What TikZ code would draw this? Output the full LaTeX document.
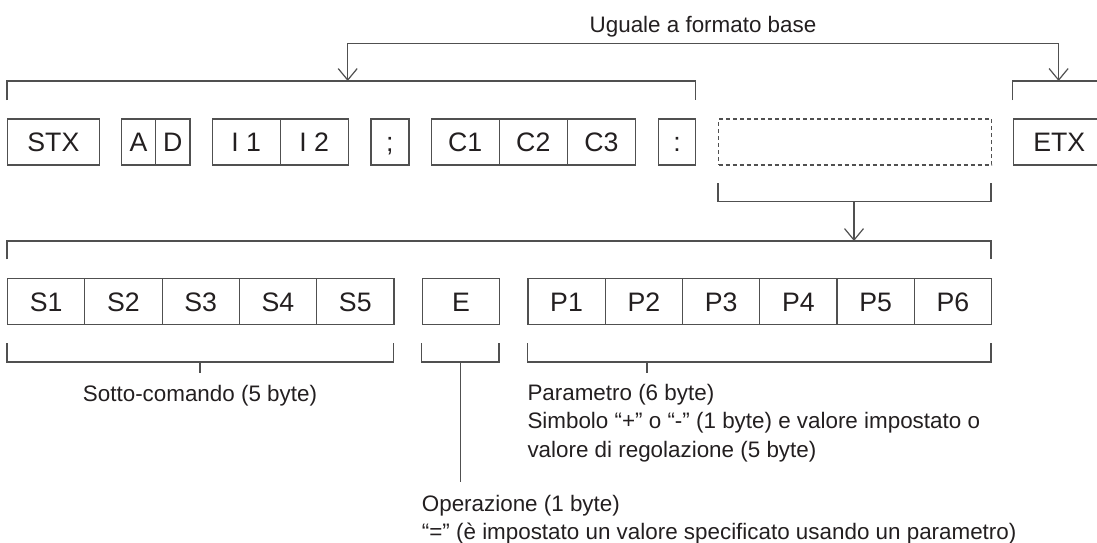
\documentclass[tikz,border=0pt]{standalone}
\usepackage{fontspec}
\setmainfont{Liberation Sans}
\usetikzlibrary{arrows.meta}
\definecolor{ln}{HTML}{505050}
\definecolor{tx}{HTML}{231F20}
\begin{document}
\begin{tikzpicture}[x=1pt,y=-1pt,
  cell/.style={draw=ln, line width=1.2pt, inner sep=0pt, minimum height=46pt, anchor=west,
    text height=19.1pt, text depth=0pt, font=\fontsize{26.7}{30}\selectfont, text=tx},
  dcell/.style={cell, dash pattern=on 4pt off 3pt},
  brk/.style={draw=ln, line width=1.2pt},
  arr/.style={draw=ln, line width=1.2pt, -{Straight Barb[length=11.5pt,width=19pt,line width=1.2pt]}},
  lbl/.style={font=\fontsize{22.4}{28.5}\selectfont, text=tx, inner sep=0pt}]
\useasboundingbox (0,0) rectangle (1097,543);
\clip (0,0) rectangle (1097,543);

% top row
\node[cell, minimum width=91.6pt] (stx) at (7,142) {STX};
\node[cell, minimum width=34.3pt] (a) at (120.7,142) {A};
\node[cell, minimum width=34.4pt] (d) at (155,142) {D};
\node[cell, minimum width=68.1pt] (i1) at (211.5,142) {I 1};
\node[cell, minimum width=68.1pt] (i2) at (279.6,142) {I 2};
\node[cell, minimum width=38pt] (semi) at (370.3,142) {;};
\node[cell, minimum width=68.1pt] (c1) at (430.5,142) {C1};
\node[cell, minimum width=68.2pt] (c2) at (498.6,142) {C2};
\node[cell, minimum width=68.2pt] (c3) at (566.8,142) {C3};
\node[cell, minimum width=37.6pt] (colon) at (657.6,142) {:};
\node[dcell, minimum width=273pt] (param) at (718,142) {};
\node[cell, minimum width=91.6pt] (etx) at (1012.8,142) {ETX};

% top brackets
\draw[brk] (7,100) -- (7,81) -- (695.2,81) -- (695.2,100);
\draw[brk] (1012.8,100) -- (1012.8,81) -- (1110,81);
\coordinate (t1) at (347.7,81);
\coordinate (t2) at (1058.6,81);
\coordinate (u1) at (347.7,43.3);
\coordinate (u2) at (1058.6,43.3);
\draw[brk] (u1) -- (u2);
\draw[arr] (u1) -- (t1);
\draw[arr] (u2) -- (t2);
\node[lbl, anchor=base] (uguale) at (703,33) {Uguale a formato base};

% dashed-box bracket and arrow down
\draw[brk] (718,183) -- (718,201.7) -- (991,201.7) -- (991,183);
\coordinate (m1) at (854,201.7);
\coordinate (m2) at (854,241);
\draw[arr] (m1) -- (m2);
\draw[brk] (7,259.3) -- (7,241) -- (991,241) -- (991,259.3);

% second row
\node[cell, minimum width=77.26pt] (s1) at (7,301.5) {S1};
\node[cell, minimum width=77.26pt] (s2) at (84.26,301.5) {S2};
\node[cell, minimum width=77.26pt] (s3) at (161.52,301.5) {S3};
\node[cell, minimum width=77.26pt] (s4) at (238.78,301.5) {S4};
\node[cell, minimum width=77.26pt] (s5) at (316.04,301.5) {S5};
\node[cell, minimum width=77.3pt] (e) at (421.7,301.5) {E};
\node[cell, minimum width=77.28pt] (p1) at (527.3,301.5) {P1};
\node[cell, minimum width=77.28pt] (p2) at (604.58,301.5) {P2};
\node[cell, minimum width=77.28pt] (p3) at (681.86,301.5) {P3};
\node[cell, minimum width=77.28pt] (p4) at (759.14,301.5) {P4};
\node[cell, minimum width=77.28pt] (p5) at (836.42,301.5) {P5};
\node[cell, minimum width=77.28pt] (p6) at (913.7,301.5) {P6};

% bottom brackets
\draw[brk] (7,343.3) -- (7,362) -- (393.3,362) -- (393.3,343.3);
\draw[brk] (200,362) -- (200,373.3);
\draw[brk] (421.7,343.3) -- (421.7,362) -- (499,362) -- (499,343.3);
\draw[brk] (460.3,362) -- (460.3,482);
\draw[brk] (527.3,343.3) -- (527.3,362) -- (991,362) -- (991,343.3);
\draw[brk] (647,362) -- (647,373.3);

% labels
\node[lbl, anchor=base] (sotto) at (200,401) {Sotto-comando (5 byte)};
\node[lbl, anchor=base west] (par1) at (527.3,400) {Parametro (6 byte)};
\node[lbl, anchor=base west] (par2) at (527.3,428.7) {Simbolo “+” o “-” (1 byte) e valore impostato o};
\node[lbl, anchor=base west] (par3) at (527.3,457.4) {valore di regolazione (5 byte)};
\node[lbl, anchor=base west] (op1) at (421.7,511) {Operazione (1 byte)};
\node[lbl, anchor=base west] (op2) at (421.7,539) {“=” (è impostato un valore specificato usando un parametro)};
\end{tikzpicture}
\end{document}
